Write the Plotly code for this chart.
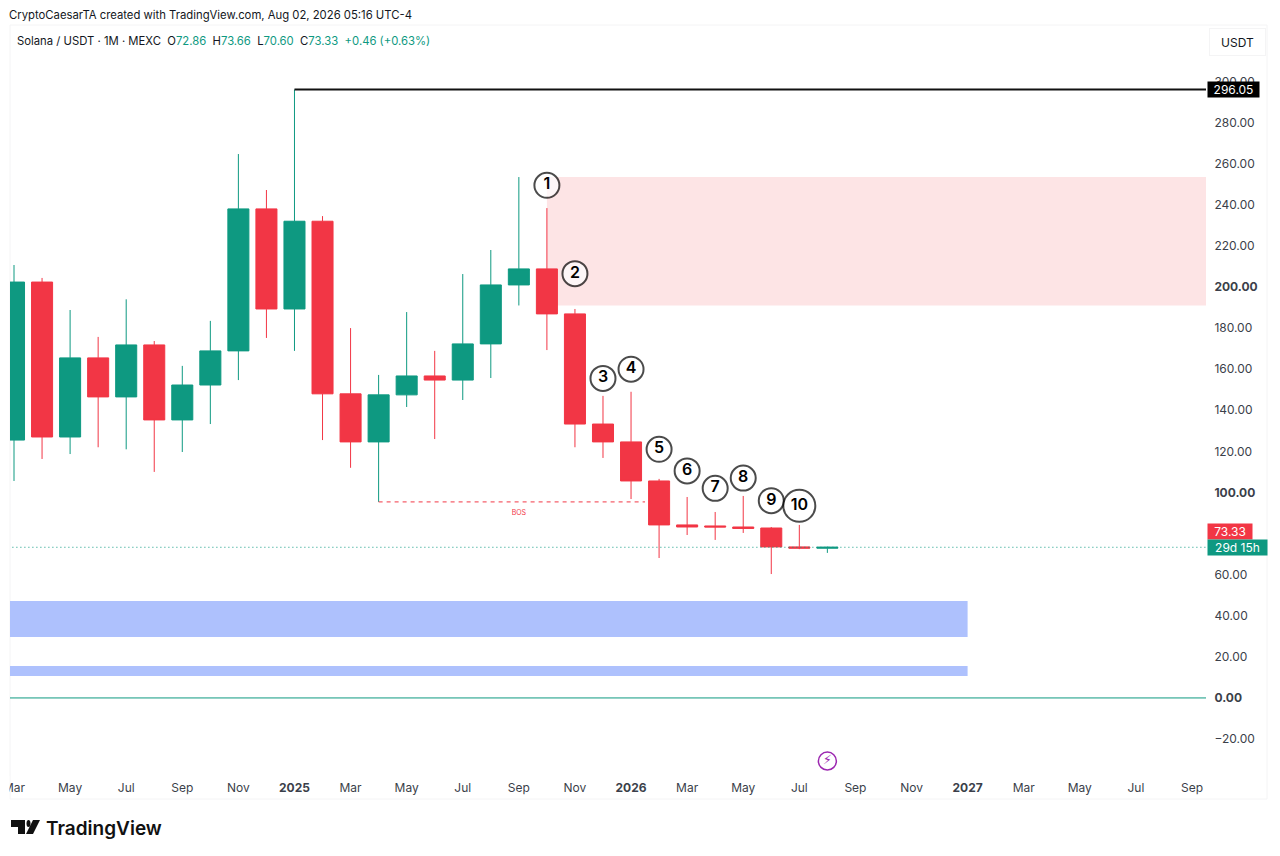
import plotly.graph_objects as go

# ---- data ----
months = ["Mar","Apr","May","Jun","Jul","Aug","Sep","Oct","Nov","Dec",
          "<b>2025</b>","Feb","Mar","Apr","May","Jun","Jul","Aug","Sep","Oct","Nov","Dec",
          "<b>2026</b>","Feb","Mar","Apr","May","Jun","Jul","Aug","Sep","Oct","Nov","Dec",
          "<b>2027</b>","Feb","Mar","Apr","May","Jun","Jul","Aug","Sep"]
opens  = [125.5,202.4,127,165.5,146.5,171.8,135.3,152.3,168.9,238,189.3,232,148,124.6,147.5,156.7,154.7,172.3,201,208.8,186.9,133.3,124.6,105.6,84.2,83.7,83.2,82.7,73.5,72.86]
highs  = [210.7,204.4,188.8,175.7,194,173.7,161.6,183.5,264.7,247.2,296.05,234.5,180,157.2,187.8,168.9,206.3,218,253.5,238.4,189.3,147,149,106.6,97.8,90.5,98.3,83.2,84.2,73.66]
lows   = [105.6,116.3,118.7,122,121,110,119.7,133.3,154.7,175.2,168.9,125.5,112,95.4,141.6,126,145,155.7,191,169.3,122,116.8,96.8,68.1,79.3,76.9,80.3,60.3,72.4,70.6]
closes = [202.4,127,165.5,146.5,171.8,135.3,152.3,168.9,238,189.3,232,148,124.6,147.5,156.7,154.7,172.3,201,208.8,186.9,133.3,124.6,105.6,84.2,83.2,83.2,82.5,73.5,72.9,73.33]

y_ticks = [-20,0,20,40,60,80,100,120,140,160,180,200,220,240,260,280,300]
y_bold = [0,100,200]

marker_labels = ["1","2","3","4","5","6","7","8","9","10"]
marker_x = [19,20,21,22,23,24,25,26,27,28]
marker_y = [249.5,206.5,155.5,160,121,110.5,102,107,96,93.5]
marker_sizes = [25,25,25,25,25,25,25,25,25,32]

ath_level = 296.05
ath_start = 10
last_price = 73.33
bos_level = 95.4
bos_span = [13, 22.5]
bos_label_pos = [18, 90]
supply_zone = [19, 42.5, 191, 253.5]
demand_zones = [[-0.2, 34, 29.7, 47.2], [-0.2, 34, 10.7, 15.6]]
zero_level = 0
flash_pos = [29, -30.7]

GREEN = "#0e9981"
RED = "#f23645"
TEXT = "#131722"
FONT = "Inter"

# figure geometry in page pixels
W, H = 1280, 856
L, R, T, B = 10, 1206, 25, 775
def px(x): return (x - L) / (R - L)
def py(y): return (B - y) / (B - T)

n = list(range(len(opens)))
fig = go.Figure()

fig.add_trace(go.Candlestick(
    x=n, open=opens, high=highs, low=lows, close=closes,
    increasing=dict(line=dict(color=GREEN, width=1), fillcolor=GREEN),
    decreasing=dict(line=dict(color=RED, width=1), fillcolor=RED),
    whiskerwidth=0, showlegend=False, hoverinfo="skip"))

fig.add_trace(go.Scatter(x=[ath_start, 42.5], y=[ath_level]*2, mode="lines",
                         line=dict(color="#111111", width=2), showlegend=False, hoverinfo="skip"))
fig.add_trace(go.Scatter(x=bos_span, y=[bos_level]*2, mode="lines",
                         line=dict(color=RED, width=1, dash="4px 4px"), showlegend=False, hoverinfo="skip"))
fig.add_trace(go.Scatter(x=[-0.2, 42.5], y=[zero_level]*2, mode="lines",
                         line=dict(color=GREEN, width=1), showlegend=False, hoverinfo="skip"))
fig.add_trace(go.Scatter(x=[-0.2, 42.5], y=[last_price]*2, mode="lines",
                         line=dict(color=GREEN, width=1, dash="1px 3px"), showlegend=False, hoverinfo="skip"))
fig.add_trace(go.Scatter(x=[bos_label_pos[0]], y=[bos_label_pos[1]], mode="text", text=["BOS"],
                         textfont=dict(family=FONT, size=7, color=RED), showlegend=False, hoverinfo="skip"))
fig.add_trace(go.Scatter(
    x=marker_x, y=marker_y, mode="markers+text", text=marker_labels, textposition="middle center",
    textfont=dict(family=FONT, size=16, color="#000000", weight=600),
    marker=dict(size=marker_sizes, color="white", line=dict(color="#000000", width=2)),
    showlegend=False, hoverinfo="skip"))
fig.add_trace(go.Scatter(
    x=[flash_pos[0]], y=[flash_pos[1]], mode="markers+text", text=["\u26a1\ufe0e"], textposition="middle center",
    textfont=dict(family="DejaVu Sans", size=13, color="#9c27b0"),
    marker=dict(size=18, color="white", line=dict(color="#9c27b0", width=1.5)),
    showlegend=False, hoverinfo="skip"))

shapes = []
x0, x1, y0, y1 = supply_zone
shapes.append(dict(type="rect", layer="below", x0=x0, x1=x1, y0=y0, y1=y1, line_width=0, fillcolor="#fde4e5"))
for z in demand_zones:
    shapes.append(dict(type="rect", layer="below", x0=z[0], x1=z[1], y0=z[2], y1=z[3], line_width=0, fillcolor="#aec1fd"))

# chart frame
shapes.append(dict(type="rect", xref="paper", yref="paper", layer="below", x0=0, x1=px(1267), y0=py(799), y1=py(25),
                   line=dict(color="#f4f4f5", width=1)))
# clip of the first tick label at the frame edge
shapes.append(dict(type="rect", xref="paper", yref="paper", layer="above", x0=px(0), x1=px(9.5), y0=py(799), y1=py(776),
                   line_width=0, fillcolor="white"))

# logo
def poly(points):
    return "M" + " L".join(f"{px(a):.5f},{py(b):.5f}" for a, b in points) + " Z"
logo_color = "#111111"
shapes.append(dict(type="path", xref="paper", yref="paper", path=poly([(11,820),(25,820),(25,834),(18,834),(18,827),(11,827)]),
                   fillcolor=logo_color, line_width=0))
shapes.append(dict(type="path", xref="paper", yref="paper", path=poly([(33,820),(40,820),(33,834),(26,834)]),
                   fillcolor=logo_color, line_width=0))
shapes.append(dict(type="circle", xref="paper", yref="paper", x0=px(26.5), x1=px(30.5), y0=py(827), y1=py(820),
                   fillcolor=logo_color, line_width=0))

def page_text(text, x, y, size=12, color=TEXT, anchor="left", weight=400):
    return dict(text=text, xref="paper", yref="paper", x=px(x), y=py(y), xanchor=anchor, yanchor="middle",
                showarrow=False, font=dict(family=FONT, size=size, color=color, weight=weight))

def price_tag(text, value, bg, width, height=15):
    return dict(text=text, xref="paper", yref="y", x=1, y=value, xanchor="left", yanchor="middle", xshift=1,
                showarrow=False, bgcolor=bg, width=width, height=height, align="center", borderpad=0,
                font=dict(family=FONT, size=12, color="white"))

legend = ("Solana / USDT \u00b7 1M \u00b7 MEXC&nbsp;&nbsp;"
          f"O<span style='color:{GREEN}'>{opens[-1]}</span>&nbsp;&nbsp;"
          f"H<span style='color:{GREEN}'>{highs[-1]}</span>&nbsp;&nbsp;"
          f"L<span style='color:{GREEN}'>{lows[-1]:.2f}</span>&nbsp;&nbsp;"
          f"C<span style='color:{GREEN}'>{closes[-1]}</span>&nbsp;&nbsp;"
          f"<span style='color:{GREEN}'>+0.46 (+0.63%)</span>")

annotations = [
    page_text("CryptoCaesarTA created with TradingView.com, Aug 02, 2026 05:16 UTC-4", 7, 15, size=11.3),
    page_text(legend, 15, 41, size=11.3),
    page_text("TradingView", 43.5, 828, size=19, color="#111111", weight=600),
    price_tag(f"{ath_level:.2f}", ath_level, "#000000", 51),
    price_tag(f"{last_price:.2f}", 81.0, RED, 44),
    price_tag("29d 15h", last_price, GREEN, 59),
    dict(text="USDT", xref="paper", yref="paper", x=px(1237.5), y=py(41.5), xanchor="center", yanchor="middle",
         showarrow=False, font=dict(family=FONT, size=12, color=TEXT), bgcolor="white", bordercolor="#f4f4f5",
         borderwidth=1, width=53, height=24),
]

fig.update_layout(
    width=W, height=H, autosize=False,
    margin=dict(l=L, r=W - R, t=T, b=H - B, pad=0),
    paper_bgcolor="white", plot_bgcolor="white",
    showlegend=False, boxgap=0.25, boxgroupgap=0, boxmode="group",
    font=dict(family=FONT, size=12, color=TEXT),
    shapes=shapes, annotations=annotations,
    xaxis=dict(type="linear", range=[-0.143, 42.5], rangeslider=dict(visible=False), automargin=False,
               tickvals=list(range(0, len(months), 2)), ticktext=months[::2],
               showgrid=False, zeroline=False, showline=False, ticks="", ticklabelstandoff=4,
               tickfont=dict(family=FONT, size=12, color="#3b3f4a")),
    yaxis=dict(side="right", range=[-37.5, 327.5], tickvals=y_ticks, automargin=False,
               ticktext=[(f"<b>{v:.2f}</b>" if v in y_bold else f"{v:.2f}".replace("-", "\u2212")) for v in y_ticks],
               showgrid=False, zeroline=False, showline=False, ticks="outside", ticklen=5, tickcolor="rgba(0,0,0,0)",
               tickfont=dict(family=FONT, size=12, color="#3b3f4a")),
)

fig.write_html("out.html", config=dict(displayModeBar=False), post_script="document.body.style.margin='0';")
